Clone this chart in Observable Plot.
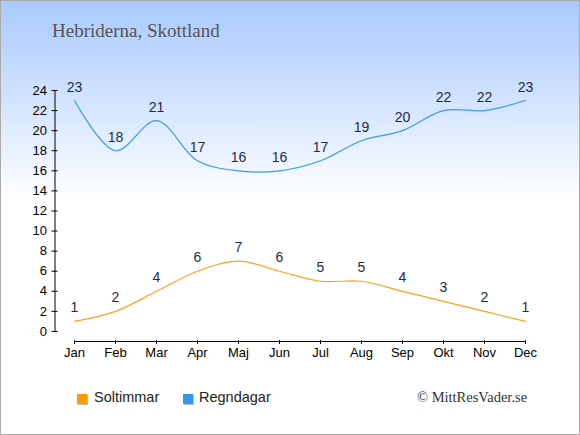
<!DOCTYPE html>
<html><head><meta charset="utf-8">
<script src="https://cdn.jsdelivr.net/npm/d3@7"></script>
<script src="https://cdn.jsdelivr.net/npm/@observablehq/plot@0.6"></script>
<style>
body{margin:0;padding:0;}
#wrap{position:relative;width:580px;height:435px;overflow:hidden;
 background:linear-gradient(to bottom,#a8c9ff 0px,#d6e6ff 110px,#ffffff 200px,#ffffff 435px);}
#wrap svg{position:absolute;left:0;top:0;}
#border{position:absolute;left:0;top:0;width:578px;height:433px;border:1px solid #aaa;pointer-events:none;}
.t{position:absolute;white-space:nowrap;}
#title{left:52px;top:20px;font-family:"Liberation Serif",serif;font-size:19px;color:#555;}
#copy{left:417px;top:389px;font-family:"Liberation Serif",serif;font-size:14.5px;color:#333;}
.leg{position:absolute;top:389px;font-family:"Liberation Sans",Arial,sans-serif;font-size:14.5px;color:#222;}
.sq{position:absolute;width:10px;height:10px;top:394px;box-shadow:1px 1px 0 #bbb;}
</style></head>
<body>
<div id="wrap">
<div id="title" class="t">Hebriderna, Skottland</div>
<div class="sq" style="left:77px;background:#ff9a00"></div>
<div class="leg" style="left:94px">Soltimmar</div>
<div class="sq" style="left:183px;background:#3498ee"></div>
<div class="leg" style="left:199px">Regndagar</div>
<div id="copy" class="t">© MittResVader.se</div>
<div id="border"></div>
</div>
<script>
const months = ["Jan","Feb","Mar","Apr","Maj","Jun","Jul","Aug","Sep","Okt","Nov","Dec"];
const soltimmar = [1,2,4,6,7,6,5,5,4,3,2,1];
const regndagar = [23,18,21,17,16,16,17,19,20,22,22,23];
const yTicks = [0,2,4,6,8,10,12,14,16,18,20,22,24];

const sol = months.map((m,i)=>({i, v: soltimmar[i]}));
const reg = months.map((m,i)=>({i, v: regndagar[i]}));

const xMin = -0.476, yMin = -1;
const font = "Liberation Sans, Arial, sans-serif";

const chart = Plot.plot({
  width: 580, height: 435,
  marginLeft: 54.5, marginRight: 55, marginTop: 90, marginBottom: 94,
  style: {background: "transparent", overflow: "visible"},
  x: {type: "linear", domain: [xMin, 11], axis: null},
  y: {domain: [yMin, 24], axis: null},
  marks: [
    Plot.ruleX([xMin], {y1: 0, y2: 24, stroke: "#000"}),
    Plot.ruleY([yMin], {x1: 0, x2: 11, stroke: "#000"}),
    Plot.axisY({ticks: yTicks, tickSize: 6, dx: 3, tickPadding: 5, label: null, fontSize: 13, fill: "#000", stroke: "#000", fontFamily: font}),
    Plot.axisX({ticks: d3.range(12), tickFormat: i => months[i], tickSize: 4, dy: -1, tickPadding: 3, label: null, fontSize: 13, fill: "#000", stroke: "#000", fontFamily: font}),
    Plot.line(reg, {x: "i", y: "v", stroke: "#3a9ae8", strokeWidth: 1.2, curve: "catmull-rom"}),
    Plot.line(sol, {x: "i", y: "v", stroke: "#ffa21f", strokeWidth: 1.2, curve: "catmull-rom"}),
    Plot.text(reg, {x: "i", y: "v", text: d => String(d.v), dy: -13, fill: "#1c2b4d", fontSize: 14, fontFamily: font}),
    Plot.text(sol, {x: "i", y: "v", text: d => String(d.v), dy: -14, fill: "#1c2b4d", fontSize: 14, fontFamily: font})
  ]
});
document.getElementById("wrap").insertBefore(chart, document.getElementById("border"));
</script>
</body></html>
